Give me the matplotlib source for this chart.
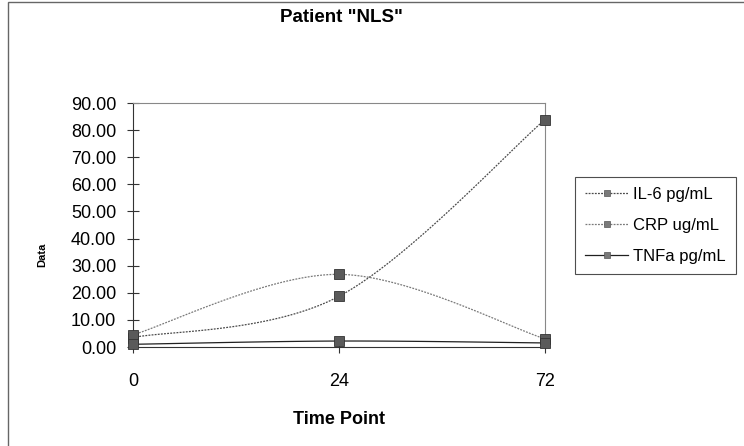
import numpy as np
import matplotlib
matplotlib.use("Agg")
import matplotlib.pyplot as plt
from matplotlib.lines import Line2D
from matplotlib.patches import Rectangle

plt.rcParams['font.family'] = ['Liberation Sans', 'DejaVu Sans']

time_points = ['0', '24', '72']
il6 = [3.5, 18.7, 83.9]
crp = [4.5, 26.8, 3.0]
tnfa = [1.0, 2.2, 1.5]

series = [
    ('IL-6 pg/mL', il6, '#4a4a4a', (0, (1.5, 1.0))),
    ('CRP ug/mL', crp, '#7a7a7a', (0, (1.5, 1.0))),
    ('TNFa pg/mL', tnfa, '#202020', '-'),
]


def smooth(xs, ys, n=40):
    # Catmull-Rom style bezier through the points (like a "smoothed line")
    p = np.column_stack([xs, ys]).astype(float)
    p_ext = np.vstack([p[0], p, p[-1]])
    out = []
    t = np.linspace(0, 1, n)[:, None]
    for i in range(len(p) - 1):
        p0, p1, p2, p3 = p_ext[i], p_ext[i + 1], p_ext[i + 2], p_ext[i + 3]
        b1 = p1 + (p2 - p0) / 6
        b2 = p2 - (p3 - p1) / 6
        seg = ((1 - t) ** 3) * p1 + 3 * ((1 - t) ** 2) * t * b1 \
            + 3 * (1 - t) * t ** 2 * b2 + t ** 3 * p2
        out.append(seg if i == 0 else seg[1:])
    out = np.vstack(out)
    return out[:, 0], out[:, 1]


fig = plt.figure(figsize=(7.44, 4.46), dpi=100)
ax = fig.add_axes([133 / 744, 1 - 347 / 446, 412 / 744, 244 / 446])

x = np.arange(len(time_points))
handles = []
for name, vals, col, ls in series:
    sx, sy = smooth(x, vals)
    ax.plot(sx, sy, color=col, lw=0.9, ls=ls, zorder=2, clip_on=False)
    ax.plot(x, vals, ls='none', marker='s', ms=7, mfc='#5a5a5a', mec='#333333',
            mew=0.6, zorder=3, clip_on=False)
    handles.append(Line2D([], [], color=col, lw=0.9, ls=ls, marker='s', ms=5,
                          mfc='#7a7a7a', mec='#555555', mew=0.5))

ax.set_xlim(0, 2)
ax.set_ylim(0, 90)
ax.set_xticks(x)
ax.set_xticklabels(time_points)
ax.set_yticks(np.arange(0, 91, 10))
ax.set_yticklabels(['%.2f' % v for v in np.arange(0, 91, 10)])
ax.tick_params(axis='both', direction='inout', length=8, width=0.8,
               color='#333333', labelsize=13, pad=8)
ax.tick_params(axis='x', pad=15)

for side in ['top', 'right']:
    ax.spines[side].set_color('#888888')
    ax.spines[side].set_linestyle((0, (2, 1)))
    ax.spines[side].set_linewidth(0.8)
ax.spines['left'].set_color('#333333')
ax.spines['bottom'].set_color('#333333')
ax.spines['bottom'].set_linestyle((0, (2, 1)))

ax.set_xlabel('Time Point', fontsize=13, fontweight='bold', labelpad=15)
fig.text(42 / 744, 1 - 255 / 446, 'Data', rotation=90, fontsize=8,
         fontweight='bold', ha='center', va='center')
fig.text(341 / 744, 1 - 18 / 446, 'Patient "NLS"', fontsize=13.5,
         fontweight='bold', ha='center', va='center')

leg = fig.legend(handles=handles, labels=[s[0] for s in series],
                 loc='upper left', bbox_to_anchor=(575 / 744, 1 - 177 / 446),
                 fontsize=12, frameon=True, fancybox=False, handlelength=2.6,
                 handletextpad=0.3, borderpad=0.6, labelspacing=0.95,
                 borderaxespad=0)
leg.get_frame().set_edgecolor('#222222')
leg.get_frame().set_linewidth(0.8)

fig.patches.append(Rectangle((8 / 744, -0.02), 1.1, 1 - 2 / 446 + 0.02,
                             transform=fig.transFigure, fill=False,
                             edgecolor='#666666', lw=1.0))

fig.savefig('out.png', dpi=100)
